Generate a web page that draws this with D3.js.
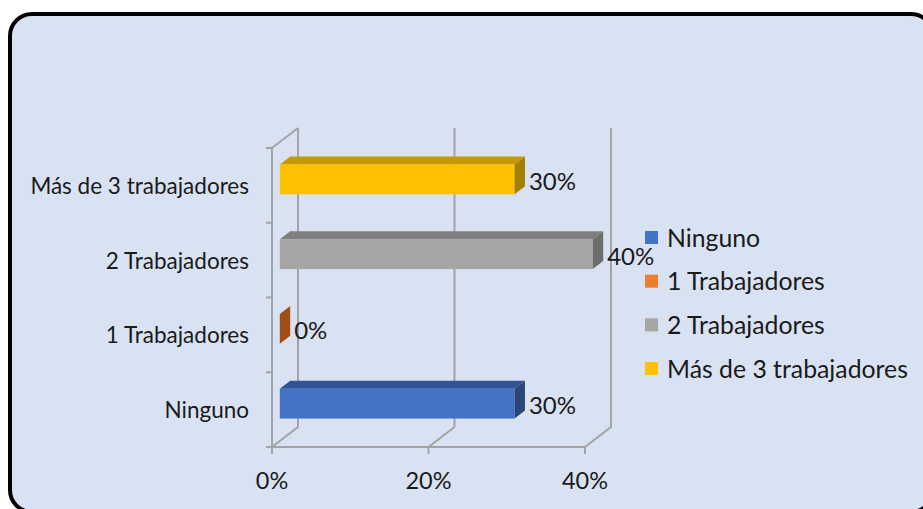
<!DOCTYPE html>
<html>
<head>
<meta charset="utf-8">
<script src="https://cdn.jsdelivr.net/npm/d3@7"></script>
<style>
  html, body { margin: 0; padding: 0; background: #ffffff; }
  svg { display: block; }
  text { font-family: Lato, "Open Sans", sans-serif; fill: #1a1a1a; }
</style>
</head>
<body>
<svg id="chart" width="923" height="509"></svg>
<script>
// ---- data ----
const categories = ["Ninguno", "1 Trabajadores", "2 Trabajadores", "Más de 3 trabajadores"];
const values = [0.30, 0.00, 0.40, 0.30];
const seriesColors = ["#4472C4", "#ED7D31", "#A5A5A5", "#FFC000"];
const topColors = ["#2F5597", "#B85F22", "#7F7F7F", "#C49A00"];
const sideColors = ["#2A4677", "#A04E14", "#6E6E6E", "#A47F00"];
const xTickValues = [0, 0.2, 0.4];
const dataLabels = ["30%", "0%", "40%", "30%"];

// ---- layout ----
const svg = d3.select("#chart");
const plot = { left: 272, right: 585, top: 148, bottom: 447 };
const DX = 26, DY = -20;      // depth of the 3D walls
const f0 = 0.3, f1 = 0.7;      // bar front / back depth fraction
const gridColor = "#a3a3a3";

// background frame
svg.append("rect")
  .attr("x", 10).attr("y", 14).attr("width", 923).attr("height", 498)
  .attr("rx", 22).attr("ry", 22)
  .attr("fill", "#D9E2F3").attr("stroke", "#000").attr("stroke-width", 4);

const x = d3.scaleLinear().domain([0, 0.4]).range([plot.left, plot.right]);
const y = d3.scaleBand().domain(categories).range([plot.bottom, plot.top])
  .paddingInner(0.6).paddingOuter(0.3);
const bw = y.bandwidth();
const step = y.step();

const g = svg.append("g");

// back wall vertical gridlines
g.selectAll("line.back").data(xTickValues).join("line")
  .attr("x1", d => x(d) + DX).attr("x2", d => x(d) + DX)
  .attr("y1", plot.bottom + DY).attr("y2", plot.top + DY)
  .attr("stroke", gridColor).attr("stroke-width", 2);

// floor diagonals
g.selectAll("line.floor").data(xTickValues).join("line")
  .attr("x1", d => x(d)).attr("x2", d => x(d) + DX)
  .attr("y1", plot.bottom).attr("y2", plot.bottom + DY)
  .attr("stroke", gridColor).attr("stroke-width", 2);

// left wall: top diagonal
g.append("line")
  .attr("x1", plot.left).attr("y1", plot.top)
  .attr("x2", plot.left + DX).attr("y2", plot.top + DY)
  .attr("stroke", gridColor).attr("stroke-width", 2);

// bars
const bdx = (f1 - f0) * DX, bdy = (f1 - f0) * DY;
const bars = g.selectAll("g.bar").data(categories.map((c, i) => ({ c, v: values[i], i })))
  .join("g").attr("class", "bar");

bars.each(function(d) {
  const sel = d3.select(this);
  const x0 = x(0) + f0 * DX, x1 = x(d.v) + f0 * DX;
  const y0 = y(d.c) + f0 * DY, y1 = y0 + bw;
  // top face
  sel.append("polygon")
    .attr("points", [[x0, y0], [x1, y0], [x1 + bdx, y0 + bdy], [x0 + bdx, y0 + bdy]].map(p => p.join(",")).join(" "))
    .attr("fill", topColors[d.i]);
  // front face
  if (x1 - x0 > 0) {
    sel.append("rect")
      .attr("x", x0).attr("y", y0).attr("width", x1 - x0).attr("height", bw)
      .attr("fill", seriesColors[d.i]);
  }
  // right side face
  sel.append("polygon")
    .attr("points", [[x1, y0], [x1 + bdx, y0 + bdy], [x1 + bdx, y1 + bdy], [x1, y1]].map(p => p.join(",")).join(" "))
    .attr("fill", sideColors[d.i]);
  // data label
  sel.append("text")
    .attr("x", x1 + bdx + 4).attr("y", y0 + bw / 2 + 1)
    .attr("dominant-baseline", "central")
    .attr("font-size", 24)
    .text(dataLabels[d.i]);
});

// front floor line and left wall front line
g.append("line")
  .attr("x1", plot.left).attr("x2", plot.right)
  .attr("y1", plot.bottom).attr("y2", plot.bottom)
  .attr("stroke", gridColor).attr("stroke-width", 2);
g.append("line")
  .attr("x1", plot.left).attr("x2", plot.left)
  .attr("y1", plot.top).attr("y2", plot.bottom)
  .attr("stroke", gridColor).attr("stroke-width", 2);

// category axis ticks (band boundaries)
g.selectAll("line.ytick").data(d3.range(categories.length + 1)).join("line")
  .attr("x1", plot.left - 6).attr("x2", plot.left)
  .attr("y1", i => plot.top + i * step).attr("y2", i => plot.top + i * step)
  .attr("stroke", gridColor).attr("stroke-width", 2);

// value axis ticks
g.selectAll("line.xtick").data(xTickValues).join("line")
  .attr("x1", d => x(d)).attr("x2", d => x(d))
  .attr("y1", plot.bottom).attr("y2", plot.bottom + 7)
  .attr("stroke", gridColor).attr("stroke-width", 2);

// value axis labels
const fmt = d3.format(".0%");
g.selectAll("text.xlab").data(xTickValues).join("text")
  .attr("x", d => x(d)).attr("y", 489)
  .attr("text-anchor", "middle")
  .attr("font-size", 23.5)
  .text(d => fmt(d));

// category labels
g.selectAll("text.ylab").data(categories).join("text")
  .attr("x", 249).attr("y", d => y(d) + bw / 2)
  .attr("text-anchor", "end").attr("dominant-baseline", "central")
  .attr("font-size", 22.5)
  .text(d => d);

// legend
const legend = svg.append("g").attr("transform", "translate(645,237)");
const rows = legend.selectAll("g").data(categories).join("g")
  .attr("transform", (d, i) => `translate(0,${i * 43.7})`);
rows.append("rect")
  .attr("x", 0).attr("y", -6).attr("width", 13).attr("height", 13)
  .attr("fill", (d, i) => seriesColors[i]);
rows.append("text")
  .attr("x", 22).attr("y", 0)
  .attr("dominant-baseline", "central")
  .attr("font-size", 24.8)
  .text(d => d);
</script>
</body>
</html>
